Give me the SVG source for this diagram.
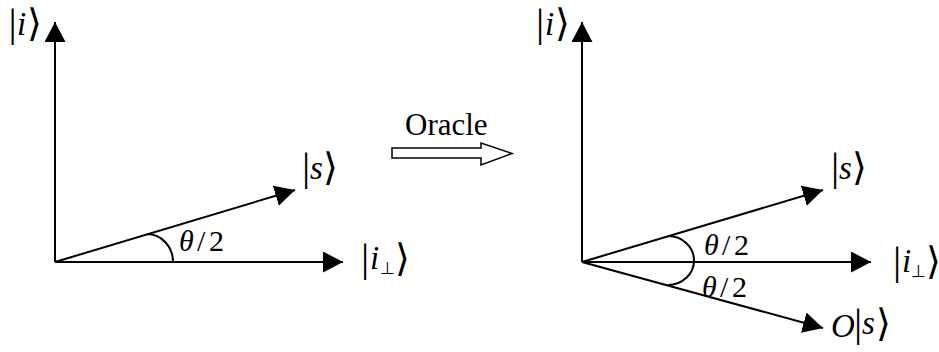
<svg xmlns="http://www.w3.org/2000/svg" width="939" height="352" viewBox="0 0 939 352">
<style>
.ln{stroke:#000;stroke-width:2;fill:none}
text{font-family:"Liberation Serif","Times New Roman",serif;fill:#000}
.it{font-style:italic;font-size:33px}
.bar{font-size:41px}
.br{font-size:38px;font-family:"DejaVu Serif","Liberation Serif",serif}
.th{font-size:30px}
.thi{font-size:30px;font-style:italic}
.sub{font-size:17px}
</style>
<defs>
<marker id="ah" markerUnits="userSpaceOnUse" markerWidth="20" markerHeight="21" refX="20" refY="10.5" orient="auto" viewBox="0 0 20 21">
<path d="M0,0 L20,10.5 L0,21 z" fill="#000"/>
</marker>
</defs>
<g id="connectors">
<line class="ln" x1="55" y1="262" x2="55" y2="22" marker-end="url(#ah)"/>
<line class="ln" x1="55" y1="262" x2="343" y2="262" marker-end="url(#ah)"/>
<line class="ln" x1="55" y1="262" x2="295" y2="190" marker-end="url(#ah)"/>
<path class="ln" d="M147,234 A26,28 0 0 1 173,262"/>
<line class="ln" x1="582" y1="262" x2="582" y2="22" marker-end="url(#ah)"/>
<line class="ln" x1="582" y1="262" x2="871" y2="262" marker-end="url(#ah)"/>
<line class="ln" x1="582" y1="262" x2="823" y2="190" marker-end="url(#ah)"/>
<line class="ln" x1="582" y1="262" x2="823" y2="328" marker-end="url(#ah)"/>
<path class="ln" d="M668,236 A26,24.5 0 0 1 668,285"/>
</g>
<g id="oracle">
<text x="405" y="135" font-size="31">Oracle</text>
<polygon points="392,148 481,148 481,143 512,153.5 481,165 481,158 392,158" fill="#fff" stroke="#000" stroke-width="1.5"/>
</g>
<g id="left-i">
<text class="bar" x="8.6" y="36">|</text><text class="it" x="17" y="35">i</text><text class="br" x="27" y="36">⟩</text>
</g>
<g id="left-s">
<text class="bar" x="301.9" y="180">|</text><text class="it" x="310" y="179">s</text><text class="br" x="323" y="180">⟩</text>
</g>
<g id="left-iperp">
<text class="bar" x="360.9" y="271">|</text><text class="it" x="370" y="269">i</text><text class="sub" x="380" y="274">⊥</text><text class="br" x="395" y="271">⟩</text>
</g>
<g id="left-angle">
<text class="thi" x="179" y="251">θ</text><text class="th" x="197" y="251">/</text><text class="th" x="209" y="251">2</text>
</g>
<g id="right-i">
<text class="bar" x="535.9" y="36">|</text><text class="it" x="545" y="35">i</text><text class="br" x="555" y="36">⟩</text>
</g>
<g id="right-s">
<text class="bar" x="830.9" y="180">|</text><text class="it" x="839" y="179">s</text><text class="br" x="852" y="180">⟩</text>
</g>
<g id="right-iperp">
<text class="bar" x="892.9" y="274">|</text><text class="it" x="902" y="272">i</text><text class="sub" x="911" y="277">⊥</text><text class="br" x="926" y="274">⟩</text>
</g>
<g id="right-angle-up">
<text class="thi" x="704" y="255">θ</text><text class="th" x="722" y="255">/</text><text class="th" x="734" y="255">2</text>
</g>
<g id="right-angle-down">
<text class="thi" x="702" y="297">θ</text><text class="th" x="720" y="297">/</text><text class="th" x="732" y="297">2</text>
</g>
<g id="right-os">
<text class="it" x="831" y="337">O</text><text class="bar" x="853.9" y="336">|</text><text class="it" x="862" y="334">s</text><text class="br" x="876" y="336">⟩</text>
</g>
</svg>
